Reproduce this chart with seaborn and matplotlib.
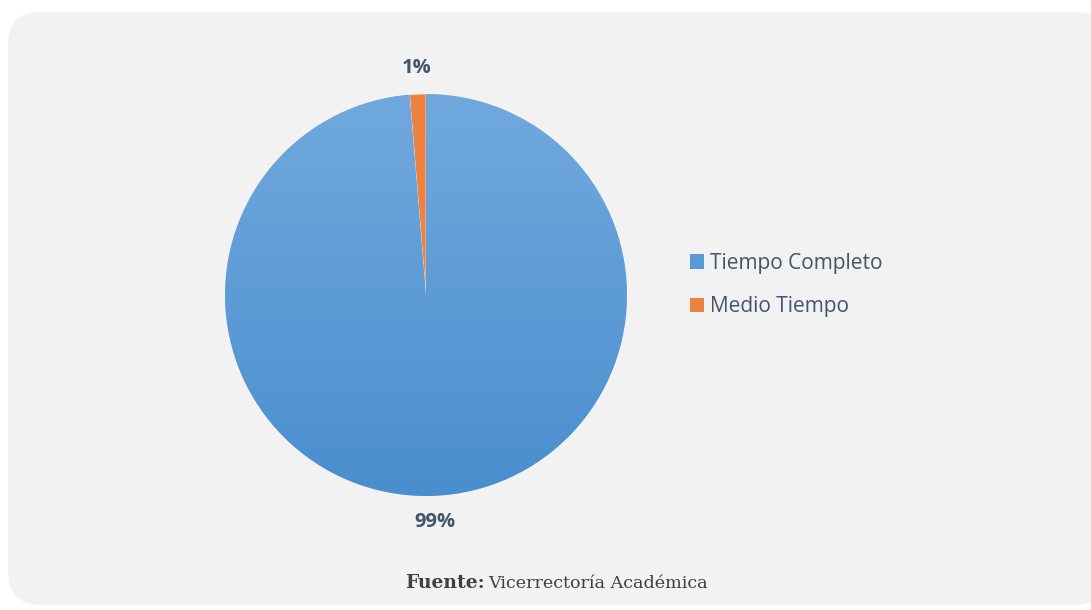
import numpy as np
import matplotlib
matplotlib.use("Agg")
import matplotlib.pyplot as plt
import seaborn as sns
from matplotlib.patches import FancyBboxPatch, Patch

sns.set_theme(style="white")
plt.rcParams["font.family"] = ["Open Sans", "DejaVu Sans"]

# data
categories = ["Tiempo Completo", "Medio Tiempo"]
shares = [98.7, 1.3]
colors = ["#5B9BD5", "#EE8240"]

text_col = "#44546A"

fig = plt.figure(figsize=(10.91, 6.10), dpi=100)
fig.patch.set_facecolor("white")

# rounded grey panel
bg = FancyBboxPatch((8 / 1091, 5 / 610), 1100 / 1091, 593 / 610,
                    boxstyle="round,pad=0,rounding_size=0.03",
                    transform=fig.transFigure, facecolor="#F2F2F2",
                    edgecolor="none", mutation_aspect=1091 / 610, zorder=-5)
fig.patches.append(bg)

# pie axes
cx, cy, r = 426, 295, 201
ax = fig.add_axes([(cx - r) / 1091, (610 - cy - r) / 610, 2 * r / 1091, 2 * r / 610])
ax.set_facecolor("none")
ax.set_zorder(2)

wedges, _, autotexts = ax.pie(
    shares, colors=colors, startangle=90, counterclock=False,
    autopct="%.0f%%", pctdistance=1.13, radius=1,
    wedgeprops=dict(edgecolor="white", linewidth=0.4),
    textprops=dict(color=text_col, fontsize=14.5, fontweight="bold"))

# vertical gradient on the blue slice
grad = np.linspace(0, 1, 256).reshape(-1, 1)
cmap = matplotlib.colors.LinearSegmentedColormap.from_list("b", ["#4A8ECE", "#71A9DE"])
img = ax.imshow(grad, cmap=cmap, extent=[-1, 1, -1, 1], origin="lower",
                aspect="auto", zorder=wedges[0].get_zorder() + 0.1)
img.set_clip_path(wedges[0])
ax.set_xlim(-1, 1)
ax.set_ylim(-1, 1)
ax.set_aspect("equal")
ax.axis("off")

# legend
handles = [Patch(facecolor=c, edgecolor="none") for c in colors]
leg = fig.legend(handles, categories, loc="center left",
                 bbox_to_anchor=(671 / 1091, (610 - 285) / 610),
                 frameon=False, fontsize=15, handlelength=0.7,
                 handleheight=0.7, handletextpad=0.25, labelspacing=1.1)
leg.set_zorder(3)
for t in leg.get_texts():
    t.set_color(text_col)

# footer
fig.text(405 / 1091, (610 - 583) / 610, "Fuente:", fontsize=13.5,
         fontweight="bold", color="#404040", family="DejaVu Serif",
         va="center", ha="left")
fig.text(488 / 1091, (610 - 583) / 610, "Vicerrectoría Académica", fontsize=12.6,
         color="#404040", family="DejaVu Serif", va="center", ha="left")

fig.savefig("out.png", dpi=100)
